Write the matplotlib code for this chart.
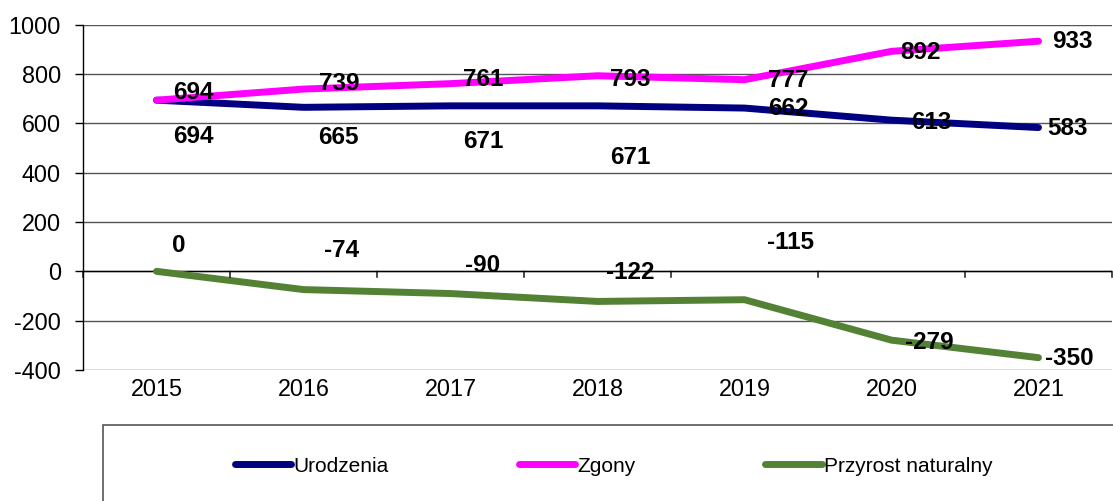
import matplotlib
matplotlib.use("Agg")
import matplotlib.pyplot as plt
from matplotlib.lines import Line2D

plt.rcParams['font.family'] = ['Liberation Sans', 'DejaVu Sans']
plt.rcParams['axes.unicode_minus'] = False

years = ['2015', '2016', '2017', '2018', '2019', '2020', '2021']
urodzenia = [694, 665, 671, 671, 662, 613, 583]
zgony = [694, 739, 761, 793, 777, 892, 933]
przyrost = [0, -74, -90, -122, -115, -279, -350]

# label placement (x offset in categories, y position in data units) as in reference
uro_lab_dx = [0.25, 0.24, 0.22, 0.22, 0.3, 0.27, 0.2]
uro_lab_y = [545, 541, 528, 460, 662, 605, 581]
zg_lab_dx = [0.25, 0.24, 0.22, 0.22, 0.3, 0.2, 0.23]
zg_lab_y = [727, 763, 776, 776, 772, 889, 930]
pr_lab_dx = [0.15, 0.26, 0.22, 0.22, 0.31, 0.26, 0.21]
pr_lab_y = [106, 86, 25, -3, 118, -287, -352]

col_u = '#000080'
col_z = '#FF00FF'
col_p = '#548235'

fig = plt.figure(figsize=(11.13, 5.01), dpi=100)
ax = fig.add_axes([83/1113, 1-370/501, 1029/1113, (370-24.7)/501])

x = list(range(len(years)))
lw = 5.0
for vals, c in [(urodzenia, col_u), (zgony, col_z), (przyrost, col_p)]:
    ax.plot(x, vals, color=c, lw=lw, solid_capstyle='round', solid_joinstyle='round', zorder=3)

lab_fs = 17.5
for i in x:
    ax.text(i + uro_lab_dx[i], uro_lab_y[i], str(urodzenia[i]), ha='center', va='center',
            fontsize=lab_fs, fontweight='bold', color='black', zorder=4)
    ax.text(i + zg_lab_dx[i], zg_lab_y[i], str(zgony[i]), ha='center', va='center',
            fontsize=lab_fs, fontweight='bold', color='black', zorder=4)
    ax.text(i + pr_lab_dx[i], pr_lab_y[i], str(przyrost[i]), ha='center', va='center',
            fontsize=lab_fs, fontweight='bold', color='black', zorder=4)

ax.set_xlim(-0.5, len(years) - 0.5)
ax.set_ylim(-400, 1000)
ax.set_yticks(range(-400, 1001, 200))
ax.tick_params(axis='y', labelsize=16.8, length=6, width=1, pad=10, colors='black')
ax.set_xticks(x)
ax.set_xticklabels(years)
ax.tick_params(axis='x', labelsize=16.8, length=0, pad=6)

for s in ['top', 'right', 'bottom']:
    ax.spines[s].set_visible(False)
ax.spines['left'].set_color('black')
ax.spines['left'].set_linewidth(1)

for yv in range(-400, 1001, 200):
    ax.axhline(yv, color='#555555', lw=1.0, zorder=1)
ax.axhline(0, color='black', lw=1.0, zorder=1)

# category boundary ticks on the zero line
for b in [i - 0.5 for i in range(len(years) + 1)]:
    ax.annotate('', xy=(b, 0), xytext=(0, -6), textcoords='offset pixels',
                arrowprops=dict(arrowstyle='-', color='black', lw=1, shrinkA=0, shrinkB=0))

# legend box
handles = [Line2D([], [], color=col_u, lw=lw, solid_capstyle='round'),
           Line2D([], [], color=col_z, lw=lw, solid_capstyle='round'),
           Line2D([], [], color=col_p, lw=lw, solid_capstyle='round')]
labels = ['Urodzenia', 'Zgony', 'Przyrost naturalny']
leg = fig.legend(handles, labels, loc='center left', bbox_to_anchor=(216/1113, 1-466/501),
                 ncol=3, frameon=False, fontsize=15, handlelength=2.7, handletextpad=0.1,
                 columnspacing=6.25)

box = plt.Rectangle((103/1113, -0.05), 1.1, (501-425)/501 + 0.05, transform=fig.transFigure,
                    fill=False, edgecolor='#555555', lw=1.2)
fig.patches.append(box)

fig.savefig('out.png', dpi=100)
